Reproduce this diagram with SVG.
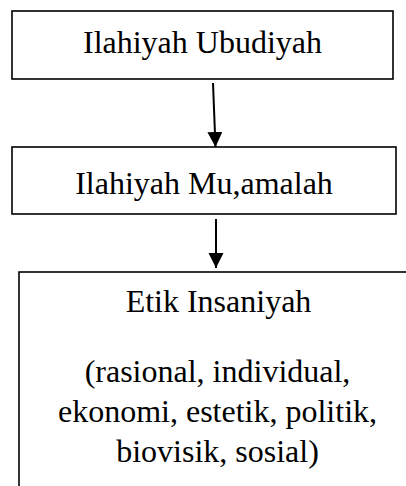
<svg xmlns="http://www.w3.org/2000/svg" width="406" height="486" viewBox="0 0 406 486">
<defs>
<style>
.box{fill:#fff;stroke:#000;stroke-width:1.6}
.t{font-family:"Liberation Serif","Times New Roman",serif;font-size:32px;fill:#000;text-anchor:middle}
.c{stroke:#000;stroke-width:2;fill:none}
</style>
<marker id="ah" markerUnits="userSpaceOnUse" markerWidth="16" markerHeight="16" refX="15" refY="7.5" orient="auto">
<path d="M0,0 L15,7.5 L0,15 Z" fill="#000"/>
</marker>
</defs>
<rect width="406" height="486" fill="#fff"/>
<g id="node-ubudiyah">
<rect class="box" x="12" y="11" width="381" height="68"/>
<text class="t" x="202.5" y="53">Ilahiyah Ubudiyah</text>
</g>
<g id="node-muamalah">
<rect class="box" x="12" y="147" width="384" height="67"/>
<text class="t" x="204" y="194">Ilahiyah Mu,amalah</text>
</g>
<g id="node-insaniyah">
<rect class="box" x="19" y="272" width="400" height="240"/>
<text class="t" x="218.5" y="312">Etik Insaniyah</text>
<text class="t" x="217.5" y="382">(rasional, individual,</text>
<text class="t" x="217.5" y="422">ekonomi, estetik, politik,</text>
<text class="t" x="217.5" y="462">biovisik, sosial)</text>
</g>
<g id="connectors">
<line class="c" x1="213" y1="83" x2="215.5" y2="147" marker-end="url(#ah)"/>
<line class="c" x1="216" y1="219" x2="216" y2="268" marker-end="url(#ah)"/>
</g>
</svg>
